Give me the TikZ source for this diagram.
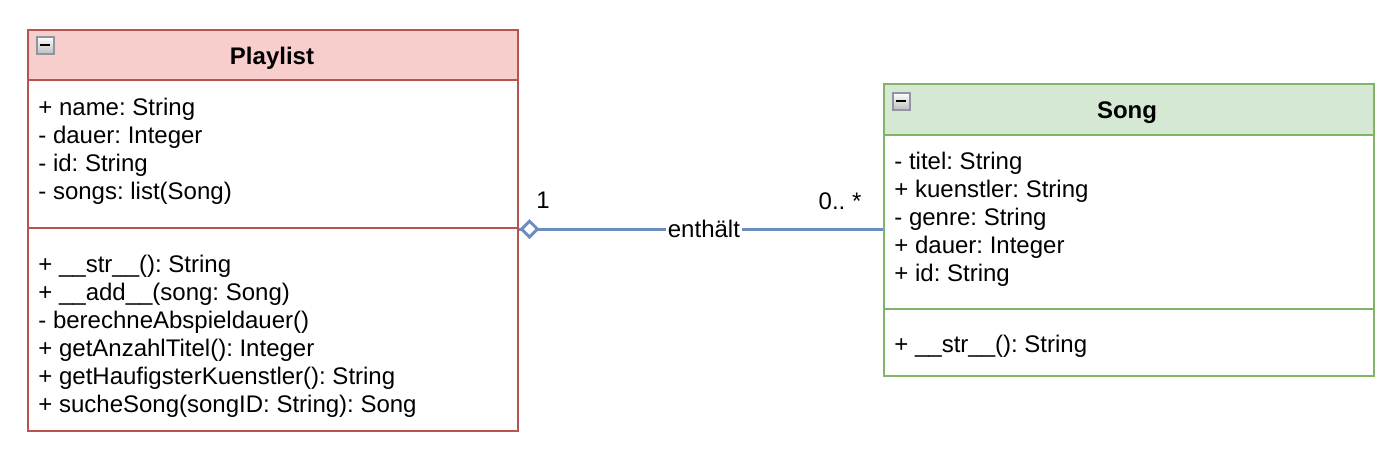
\documentclass[tikz,border=0pt]{standalone}
\usepackage{fontspec}
\setmainfont{Liberation Sans}
\frenchspacing
\usetikzlibrary{calc,shapes.geometric}
\definecolor{pfill}{HTML}{F8CECC}
\definecolor{pline}{HTML}{B85450}
\definecolor{sfill}{HTML}{D5E8D4}
\definecolor{sline}{HTML}{82B366}
\definecolor{conn}{HTML}{6C8EBF}
\definecolor{icongray}{HTML}{8E94A2}
\tikzset{
  umlbox/.style={draw, line width=1pt, inner sep=0pt, anchor=north west},
  txt/.style={font=\fontsize{12}{14}\selectfont, anchor=base west, inner sep=0pt},
  ttl/.style={font=\fontsize{12}{14}\selectfont\bfseries, anchor=base, inner sep=0pt},
  lbl/.style={font=\fontsize{12}{14}\selectfont, inner sep=0pt},
  assoc/.style={draw=conn, line width=1.5pt},
  aggtip/.style={diamond, draw=conn, fill=white, line width=1.5pt, inner sep=0pt,
    minimum width=8.5pt, minimum height=8.5pt, anchor=west},
}
\newcommand{\collapseicon}[2]{%
  \shade[top color=white, bottom color=black!25, draw=icongray, line width=1pt]
    (#1,#2) rectangle ++(17,17);
  \fill[black] ($(#1,#2)+(3.5,7.5)$) rectangle ++(10,2);
}
\begin{document}
\begin{tikzpicture}[x=0.5pt, y=-0.5pt]
\useasboundingbox (0,0) rectangle (1396,452);
% Playlist
\fill[pfill] (27,29) rectangle (517,80);
\node[umlbox, draw=pline, minimum width=245pt, minimum height=200.5pt] (plist) at (27,29) {};
\draw[pline, line width=1pt] (27,80) -- (517,80);
\draw[pline, line width=1pt] (27,228) -- (517,228);
\collapseicon{36.5}{36.5}
\node[ttl] (ptitle) at (272,64) {Playlist};
\foreach \t [count=\i from 0] in {{+ name: String},{- dauer: Integer},{- id: String},{- songs: list(Song)}}
  \node[txt] (pa\i) at (38,115+28*\i) {\t};
\foreach \t [count=\i from 0] in {{+ \_\_str\_\_(): String},{+ \_\_add\_\_(song: Song)},{- berechneAbspieldauer()},{+ getAnzahlTitel(): Integer},{+ getHaufigsterKuenstler(): String},{+ sucheSong(songID: String): Song}}
  \node[txt] (pm\i) at (38,272+28*\i) {\t};
% Song
\fill[sfill] (883,83) rectangle (1373,135);
\node[umlbox, draw=sline, minimum width=245pt, minimum height=146pt] (song) at (883,83) {};
\draw[sline, line width=1pt] (883,135) -- (1373,135);
\draw[sline, line width=1pt] (883,309) -- (1373,309);
\collapseicon{892.5}{92.5}
\node[ttl] (stitle) at (1127,118) {Song};
\foreach \t [count=\i from 0] in {{- titel: String},{+ kuenstler: String},{- genre: String},{+ dauer: Integer},{+ id: String}}
  \node[txt] (sa\i) at (894,169+28*\i) {\t};
\node[txt] (sm0) at (894,352) {+ \_\_str\_\_(): String};
% Association
\coordinate (pend) at ($(plist.east)+(0,-1.5)$);
\draw[assoc] (pend) -- node[lbl, pos=0.508, fill=white, inner xsep=1pt, inner ysep=1pt] (rel) {enthält} (pend -| song.west);
\node[aggtip] (agg) at ($(pend)+(0.5,0)$) {};
\node[lbl] (m1) at (543,200) {1};
\node[lbl] (m2) at (840,201) {0.. *};
\end{tikzpicture}
\end{document}
